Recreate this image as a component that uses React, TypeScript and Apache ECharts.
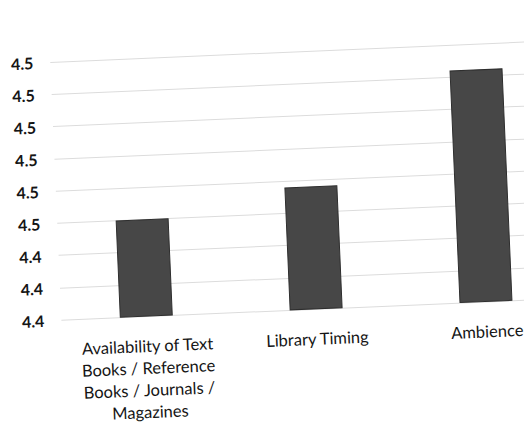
import React, { useEffect, useRef } from "react";
import * as echarts from "echarts";

const categories = [
  "Availability of Text\nBooks / Reference\nBooks / Journals /\nMagazines",
  "Library Timing",
  "Ambience",
];
const values = [4.45, 4.458, 4.492];
const yTickLabels = ["4.4", "4.4", "4.4", "4.5", "4.5", "4.5", "4.5", "4.5", "4.5"];

export default function App() {
  const ref = useRef<HTMLDivElement>(null);
  useEffect(() => {
    if (!ref.current) return;
    const chart = echarts.init(ref.current, null, { renderer: "svg" });
    chart.setOption({
      animation: false,
      backgroundColor: "#ffffff",
      grid: { left: 57, right: 33, top: 53, bottom: 117, containLabel: false },
      xAxis: {
        type: "category",
        data: categories,
        axisLine: { show: false },
        axisTick: { show: false },
        axisLabel: {
          interval: 0,
          margin: 19,
          color: "#151515",
          fontFamily: "Lato",
          fontSize: 16.5,
          lineHeight: 22,
          align: "center",
        },
      },
      yAxis: {
        type: "value",
        min: 4.42,
        max: 4.5,
        interval: 0.01,
        axisLine: { show: false },
        axisTick: { show: false },
        axisLabel: {
          margin: 17,
          color: "#151515",
          fontFamily: "Lato",
          fontSize: 16,
          fontWeight: "bold",
          formatter: (v: number, i: number) => yTickLabels[i] ?? v.toFixed(1),
        },
        splitLine: { lineStyle: { color: "#dcdcdc", width: 1 } },
      },
      series: [
        {
          type: "bar",
          data: values,
          barWidth: 53,
          itemStyle: { color: "#474747", borderColor: "#2e2e2e", borderWidth: 1 },
        },
      ],
    });
    return () => chart.dispose();
  }, []);
  return (
    <div
      style={{
        position: "fixed",
        left: 0,
        top: 0,
        width: 524,
        height: 428,
        overflow: "hidden",
        background: "#ffffff",
      }}
    >
      <div
        ref={ref}
        style={{
          position: "absolute",
          left: 0,
          top: 0,
          width: 600,
          height: 428,
          background: "#ffffff",
          transform: "rotate(-2.46deg)",
          transformOrigin: "262px 214px",
        }}
      />
    </div>
  );
}
